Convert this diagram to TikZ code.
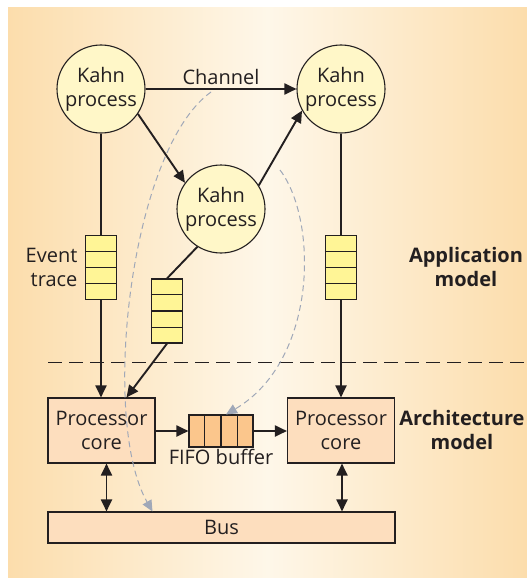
\documentclass[tikz,border=0pt]{standalone}
\usepackage{fontspec}
\setmainfont{Open Sans}
\usepackage{tikz}
\usetikzlibrary{calc}
\usetikzlibrary{arrows.meta}
\usetikzlibrary{positioning}
\definecolor{bgedge}{RGB}{252,221,172}
\definecolor{bgmid}{RGB}{254,247,233}
\definecolor{kahnfill}{RGB}{255,247,200}
\definecolor{tracefill}{RGB}{255,245,150}
\definecolor{corefill}{RGB}{253,222,190}
\definecolor{fifofill}{RGB}{251,198,140}
\definecolor{ink}{RGB}{35,31,32}
\definecolor{mapgray}{RGB}{160,168,184}
\newcommand{\cells}[3]{% node, number of cells, direction (h/v)
  \foreach \i in {1,...,#2} {
    \ifx#3h
      \draw[ink,line width=1.1pt] ($(#1.north west)!\i/(#2+1)!(#1.north east)$) -- ($(#1.south west)!\i/(#2+1)!(#1.south east)$);
    \else
      \draw[ink,line width=1.1pt] ($(#1.north west)!\i/(#2+1)!(#1.south west)$) -- ($(#1.north east)!\i/(#2+1)!(#1.south east)$);
    \fi
  }
}

\begin{document}
\begin{tikzpicture}[x=1pt,y=-1pt,
  every node/.style={font=\fontsize{20}{24}\selectfont,text=ink},
  kahn/.style={circle,draw=ink,line width=1.1pt,fill=kahnfill,minimum size=88pt,inner sep=0pt,align=center},
  trace/.style={draw=ink,line width=1.1pt,fill=tracefill,minimum width=31pt,minimum height=64pt,inner sep=0pt},
  core/.style={draw=ink,line width=1.1pt,fill=corefill,minimum width=107pt,minimum height=65pt,inner sep=0pt,align=center},
  conn/.style={ink,line width=1.9pt,-{Triangle[length=12pt,width=11pt]}},
  dconn/.style={ink,line width=1.9pt,{Triangle[length=12pt,width=11pt]}-{Triangle[length=12pt,width=11pt]}},
  plain/.style={ink,line width=1.9pt},
  mapping/.style={mapgray,line width=1pt,dash pattern=on 6pt off 4pt,-{Triangle[length=11pt,width=10pt]}},
  model/.style={font=\fontsize{20}{24}\selectfont\bfseries,align=center}]
\useasboundingbox (0,0) rectangle (527,578);
\shade[left color=bgedge,right color=bgedge,middle color=bgmid] (8,8) rectangle (527,578);

% application side
\node[kahn] (kTL) at (101,89) {Kahn\\process};
\node[kahn] (kTR) at (341,89) {Kahn\\process};
\node[kahn] (kM) at (221,209) {Kahn\\process};
\node[trace] (qL) at (101,267.5) {};
\node[trace] (qR) at (341,267.5) {};
\node[trace] (qM) at (167,311) {};
\cells{qL}{3}{v}
\cells{qR}{3}{v}
\cells{qM}{3}{v}
\node[left=4pt of qL,align=right] (evlbl) {Event\\trace};
\node[model] (applbl) at (466,267) {Application\\model};

% architecture side
\draw[ink,line width=1pt,dash pattern=on 14pt off 7pt] (48,362) -- (527,362);
\node[core] (pL) at (101.5,430.5) {Processor\\core};
\node[core] (pR) at (341,430.5) {Processor\\core};
\node[draw=ink,line width=1.1pt,fill=fifofill,minimum width=64pt,minimum height=32pt,inner sep=0pt] (fifo) at (221,431) {};
\cells{fifo}{3}{h}
\node[below=-2pt of fifo] (fifolbl) {FIFO buffer};
\node[draw=ink,line width=1.1pt,fill=corefill,minimum width=347pt,minimum height=31pt,inner sep=0pt] (bus) at (221.5,527.5) {Bus};
\node[model] (archlbl) at (462,430) {Architecture\\model};

% channels
\draw[conn] (kTL) -- node[above=0pt] (chlbl) {Channel} (kTR);
\draw[conn] (kTL.-34) -- (kM.144);
\draw[conn] (kM.32) -- (kTR.209);
\draw[plain] (kTL.south) -- (qL.north);
\draw[plain] (kTR.south) -- (qR.north);
\draw[plain] (kM.238) -- (qM.north);
\draw[conn] (qL.south) -- (qL.south |- pL.north);
\draw[conn] (qR.south) -- (qR.south |- pR.north);
\draw[conn] (qM.south) -- ([xshift=25pt]pL.north);
\draw[conn] (pL.east |- fifo.west) -- (fifo.west);
\draw[conn] (fifo.east) -- (fifo.east -| pR.west);
\draw[dconn] ([xshift=5pt]pL.south) -- ([xshift=5pt]pL.south |- bus.north);
\draw[dconn] ([xshift=1pt]pR.south) -- ([xshift=1pt]pR.south |- bus.north);

% mappings
\coordinate (chmap) at (211,92);
\coordinate (kmap) at (280,170);
\draw[mapping] (chmap) .. controls (130,150) and (100,420) .. ([xshift=-69pt]bus.north);
\draw[mapping] (kmap) .. controls (318,220) and (318,360) .. ([xshift=5pt]fifo.north);
\end{tikzpicture}
\end{document}
